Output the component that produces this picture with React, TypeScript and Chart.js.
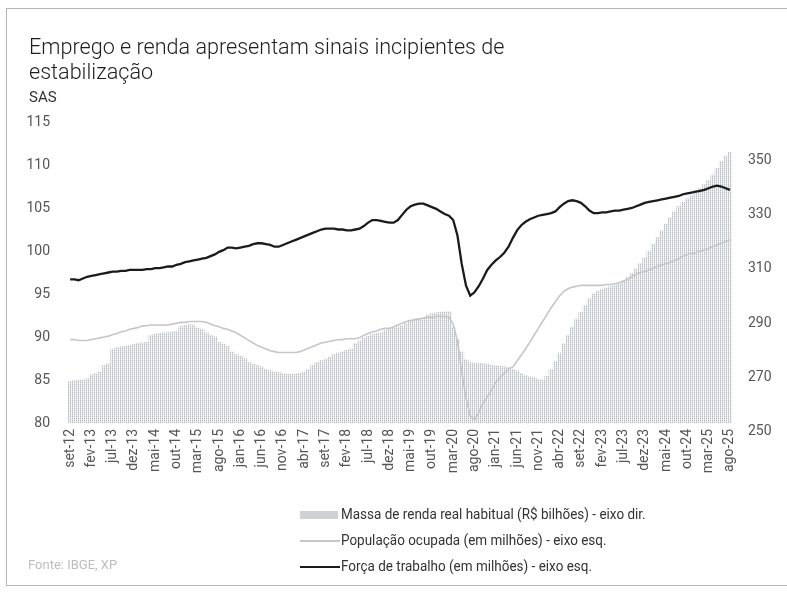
import React, { useEffect, useRef } from 'react';
import { Chart, registerables } from 'chart.js';

Chart.register(...registerables);

const MONTH_ABBR = ['jan', 'fev', 'mar', 'abr', 'mai', 'jun', 'jul', 'ago', 'set', 'out', 'nov', 'dez'];
const START_YEAR = 2012;
const START_MONTH = 8; // set
const N_MONTHS = 156; // set-12 .. ago-25

const categories: string[] = Array.from({ length: N_MONTHS }, (_, i) => {
  const m = (START_MONTH + i) % 12;
  const y = START_YEAR + Math.floor((START_MONTH + i) / 12);
  return `${MONTH_ABBR[m]}-${String(y).slice(2)}`;
});

const tickLabels = [
  'set-12', 'fev-13', 'jul-13', 'dez-13', 'mai-14', 'out-14', 'mar-15', 'ago-15',
  'jan-16', 'jun-16', 'nov-16', 'abr-17', 'set-17', 'fev-18', 'jul-18', 'dez-18',
  'mai-19', 'out-19', 'mar-20', 'ago-20', 'jan-21', 'jun-21', 'nov-21', 'abr-22',
  'set-22', 'fev-23', 'jul-23', 'dez-23', 'mai-24', 'out-24', 'mar-25', 'ago-25',
];

// Força de trabalho (milhões) - eixo esq.
const forcaTrabalho = [
  96.7, 96.7, 96.6, 96.8, 97.0, 97.1, 97.2, 97.3, 97.4, 97.5,
  97.6, 97.6, 97.7, 97.7, 97.8, 97.8, 97.8, 97.8, 97.9, 97.9,
  98.0, 98.0, 98.1, 98.2, 98.2, 98.4, 98.5, 98.7, 98.8, 98.9,
  99.0, 99.1, 99.2, 99.4, 99.6, 99.9, 100.1, 100.4, 100.4, 100.3,
  100.4, 100.5, 100.6, 100.8, 100.9, 100.9, 100.8, 100.7, 100.5, 100.5,
  100.7, 100.9, 101.1, 101.3, 101.5, 101.7, 101.9, 102.1, 102.3, 102.5,
  102.6, 102.6, 102.6, 102.5, 102.5, 102.4, 102.4, 102.5, 102.6, 102.9,
  103.3, 103.6, 103.6, 103.5, 103.4, 103.3, 103.3, 103.6, 104.2, 104.8,
  105.2, 105.4, 105.5, 105.5, 105.3, 105.1, 104.9, 104.6, 104.3, 104.1,
  103.6, 101.8, 98.5, 96.0, 94.8, 95.2, 95.9, 96.8, 97.8, 98.4,
  98.9, 99.3, 99.8, 100.5, 101.5, 102.4, 103.0, 103.4, 103.7, 103.9,
  104.1, 104.2, 104.3, 104.4, 104.6, 105.1, 105.5, 105.8, 105.9, 105.8,
  105.6, 105.2, 104.7, 104.4, 104.4, 104.5, 104.5, 104.6, 104.7, 104.7,
  104.8, 104.9, 105.0, 105.2, 105.4, 105.6, 105.7, 105.8, 105.9, 106.0,
  106.1, 106.2, 106.3, 106.4, 106.6, 106.7, 106.8, 106.9, 107.0, 107.1,
  107.3, 107.5, 107.6, 107.5, 107.3, 107.1,
];

// População ocupada (milhões) - eixo esq.
const populacaoOcupada = [
  89.7, 89.7, 89.6, 89.6, 89.6, 89.7, 89.8, 89.9, 90.0, 90.1,
  90.3, 90.4, 90.6, 90.7, 90.9, 91.0, 91.1, 91.3, 91.3, 91.4,
  91.4, 91.4, 91.4, 91.4, 91.5, 91.6, 91.7, 91.7, 91.8, 91.8,
  91.8, 91.8, 91.7, 91.5, 91.3, 91.2, 91.0, 90.9, 90.7, 90.5,
  90.2, 89.9, 89.6, 89.3, 89.0, 88.8, 88.6, 88.4, 88.3, 88.2,
  88.2, 88.2, 88.2, 88.2, 88.3, 88.5, 88.7, 88.9, 89.1, 89.3,
  89.4, 89.5, 89.6, 89.7, 89.7, 89.8, 89.8, 89.8, 89.9, 90.2,
  90.4, 90.6, 90.7, 90.9, 91.0, 91.0, 91.2, 91.4, 91.6, 91.8,
  91.9, 92.0, 92.1, 92.2, 92.3, 92.3, 92.4, 92.4, 92.4, 92.3,
  91.5, 89.5, 86.0, 83.0, 80.8, 80.4, 81.2, 82.3, 83.0, 83.8,
  84.7, 85.3, 85.8, 86.3, 86.5, 87.2, 87.9, 88.6, 89.4, 90.2,
  91.0, 91.8, 92.6, 93.4, 94.1, 94.8, 95.3, 95.6, 95.8, 95.9,
  96.0, 96.0, 96.0, 96.0, 96.0, 96.0, 96.1, 96.1, 96.2, 96.3,
  96.5, 96.7, 97.0, 97.3, 97.5, 97.6, 97.8, 98.0, 98.2, 98.4,
  98.5, 98.7, 98.9, 99.1, 99.4, 99.6, 99.7, 99.8, 100.0, 100.1,
  100.3, 100.5, 100.7, 100.9, 101.1, 101.3,
];

// Massa de renda real habitual (R$ bilhões) - eixo dir.
const massaRenda = [
  268.5, 268.8, 269.0, 269.2, 269.5, 271.0, 271.5, 272.0, 274.5, 275.0,
  280.5, 281.0, 281.3, 281.5, 281.8, 282.3, 282.6, 282.8, 283.0, 285.5,
  286.0, 286.3, 286.5, 286.6, 286.8, 287.0, 288.8, 289.2, 289.5, 289.3,
  288.3, 287.8, 286.5, 285.5, 285.0, 283.0, 282.3, 281.5, 279.5, 278.5,
  277.8, 277.0, 275.5, 275.0, 274.5, 274.0, 273.0, 272.5, 272.0, 271.8,
  271.5, 271.3, 271.2, 271.3, 271.6, 272.0, 273.0, 274.5, 275.5, 276.3,
  276.8, 277.5, 278.5, 279.0, 279.5, 280.0, 280.5, 282.5, 283.5, 284.5,
  285.3, 285.8, 286.3, 286.5, 287.3, 287.8, 288.3, 288.7, 289.0, 290.0,
  291.2, 291.6, 291.8, 292.0, 293.0, 293.5, 293.8, 294.0, 294.2, 294.2,
  288.5, 284.0, 279.5, 276.5, 275.5, 275.3, 275.3, 275.2, 275.0, 274.5,
  274.3, 274.2, 274.0, 273.8, 273.0, 272.5, 271.5, 270.8, 270.3, 270.0,
  269.3, 269.0, 270.5, 273.0, 276.0, 279.0, 282.5, 285.5, 288.5, 291.5,
  294.0, 296.5, 299.0, 300.8, 301.8, 302.5, 303.0, 303.5, 304.0, 304.5,
  305.5, 307.0, 308.3, 310.0, 312.0, 314.0, 316.5, 319.0, 321.5, 324.0,
  326.5, 328.8, 331.0, 333.0, 334.5, 335.8, 337.0, 338.3, 339.5, 341.0,
  342.5, 344.5, 347.0, 349.5, 351.5, 352.8,
];

const leftAxisMin = 80;
const leftAxisMax = 115;
const leftAxisStep = 5;
const rightTicks = [250, 270, 290, 310, 330, 350];
const rightAxisMin = 253.3;
const rightAxisMax = 364;

const FONT = 'Roboto, "Noto Sans", sans-serif';

function makeDotPattern(): CanvasPattern | string {
  const c = document.createElement('canvas');
  c.width = 2;
  c.height = 2;
  const ctx = c.getContext('2d');
  if (!ctx) return '#dcdfe2';
  ctx.fillStyle = '#f4f5f6';
  ctx.fillRect(0, 0, 2, 2);
  ctx.fillStyle = '#b8bcc1';
  ctx.fillRect(0, 0, 1, 1);
  ctx.fillStyle = '#d8dbde';
  ctx.fillRect(0, 1, 1, 1);
  const p = ctx.createPattern(c, 'repeat');
  return p || '#dcdfe2';
}

function ChartCanvas() {
  const ref = useRef<HTMLCanvasElement | null>(null);
  useEffect(() => {
    if (!ref.current) return;
    Chart.defaults.font.family = FONT;
    const pattern = makeDotPattern();
    const chart = new Chart(ref.current, {
      type: 'bar',
      data: {
        labels: categories,
        datasets: [
          {
            type: 'line',
            label: 'Força de trabalho (em milhões) - eixo esq.',
            data: forcaTrabalho,
            yAxisID: 'y',
            borderColor: '#1b1b1b',
            borderWidth: 2.3,
            pointRadius: 0,
            tension: 0,
            order: 1,
          } as any,
          {
            type: 'line',
            label: 'População ocupada (em milhões) - eixo esq.',
            data: populacaoOcupada,
            yAxisID: 'y',
            borderColor: '#c6c6c6',
            borderWidth: 1.6,
            pointRadius: 0,
            tension: 0,
            order: 2,
          } as any,
          {
            type: 'bar',
            label: 'Massa de renda real habitual (R$ bilhões) - eixo dir.',
            data: massaRenda,
            yAxisID: 'y1',
            backgroundColor: pattern as any,
            borderWidth: 0,
            barPercentage: 1,
            categoryPercentage: 1,
            order: 3,
          } as any,
        ],
      },
      options: {
        responsive: false,
        animation: false,
        layout: { padding: { top: 122, left: 0, right: 0, bottom: 0 } },
        plugins: { legend: { display: false }, tooltip: { enabled: false } },
        scales: {
          x: {
            grid: { display: false, drawTicks: false },
            border: { display: false },
            ticks: {
              autoSkip: false,
              minRotation: 90,
              maxRotation: 90,
              padding: 6,
              color: '#555',
              font: { size: 14, family: FONT },
              callback: (_v: any, i: number) => (tickLabels.includes(categories[i]) ? categories[i] : ''),
            },
            afterFit: (s: any) => {
              s.height = 176;
            },
          },
          y: {
            position: 'left',
            min: leftAxisMin,
            max: leftAxisMax,
            grid: { display: false, drawTicks: false },
            border: { display: false },
            ticks: { stepSize: leftAxisStep, padding: 18, color: '#555', font: { size: 14, family: FONT } },
            afterFit: (s: any) => {
              s.width = 68;
            },
          },
          y1: {
            position: 'right',
            min: rightAxisMin,
            max: rightAxisMax,
            grid: { display: false, drawTicks: false },
            border: { display: false },
            afterBuildTicks: (s: any) => {
              s.ticks = rightTicks.map((v) => ({ value: v }));
            },
            ticks: { autoSkip: false, padding: 16, color: '#555', font: { size: 14, family: FONT } },
            afterFit: (s: any) => {
              s.width = 55;
            },
          },
        },
      } as any,
    });
    return () => chart.destroy();
  }, []);
  return (
    <canvas
      ref={ref}
      width={787}
      height={599}
      style={{ position: 'absolute', left: 0, top: 0, width: 787, height: 599 }}
    />
  );
}

export default function App() {
  const legendRow = (top: number): React.CSSProperties => ({
    position: 'absolute',
    left: 341,
    top,
    height: 20,
    lineHeight: '20px',
    fontSize: 14.5,
    color: '#333',
    whiteSpace: 'nowrap',
  });
  const squeeze: React.CSSProperties = { display: 'inline-block', transform: 'scaleX(0.93)', transformOrigin: 'left center' };
  return (
    <div
      style={{
        position: 'fixed',
        left: 0,
        top: 0,
        width: 787,
        height: 599,
        background: '#fff',
        overflow: 'hidden',
        fontFamily: FONT,
      }}
    >
      <div
        style={{
          position: 'absolute',
          left: 6,
          top: 8,
          width: 820,
          height: 576,
          borderTop: '1px solid #b5b5b5',
          borderLeft: '1px solid #b5b5b5',
          borderBottom: '1px solid #b5b5b5',
        }}
      />
      <ChartCanvas />
      <div
        style={{
          position: 'absolute',
          left: 29,
          top: 34,
          fontSize: 21.6,
          fontWeight: 300,
          lineHeight: '25px',
          color: '#1e1e1e',
          whiteSpace: 'nowrap',
        }}
      >
        Emprego e renda apresentam sinais incipientes de
        <br />
        estabilização
      </div>
      <div style={{ position: 'absolute', left: 29, top: 87, fontSize: 15, lineHeight: '20px', color: '#333' }}>SAS</div>

      <div
        style={{
          position: 'absolute',
          left: 300,
          top: 511,
          width: 38,
          height: 8,
          backgroundColor: '#e6e8ea',
          backgroundImage: 'radial-gradient(#b4b8bc 0.6px, transparent 0.8px)',
          backgroundSize: '2px 2px',
        }}
      />
      <div style={legendRow(505)}>
        <span style={squeeze}>Massa de renda real habitual (R$ bilhões) - eixo dir.</span>
      </div>
      <div style={{ position: 'absolute', left: 300, top: 540, width: 40, height: 2, background: '#c8c8c8' }} />
      <div style={legendRow(531)}>
        <span style={squeeze}>População ocupada (em milhões) - eixo esq.</span>
      </div>
      <div style={{ position: 'absolute', left: 300, top: 566, width: 40, height: 2, background: '#1b1b1b' }} />
      <div style={legendRow(557)}>
        <span style={squeeze}>Força de trabalho (em milhões) - eixo esq.</span>
      </div>
      <div
        style={{
          position: 'absolute',
          left: 28,
          top: 556,
          fontSize: 13,
          lineHeight: '18px',
          color: '#bdbdbd',
        }}
      >
        Fonte: IBGE, XP
      </div>
    </div>
  );
}
